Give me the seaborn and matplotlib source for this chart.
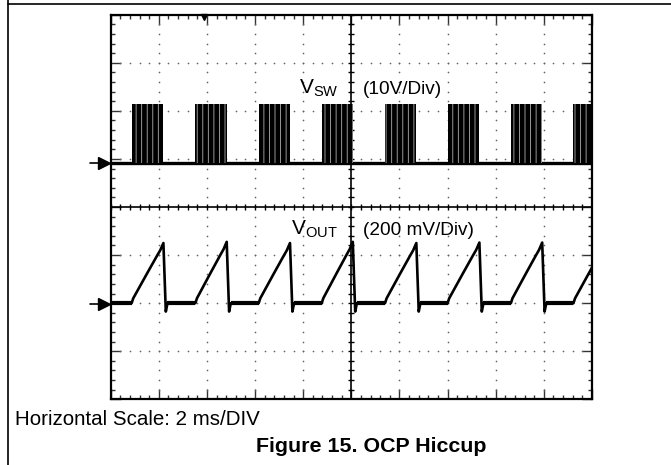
import numpy as np
import pandas as pd
import matplotlib
matplotlib.use('Agg')
import matplotlib.pyplot as plt
import seaborn as sns
from matplotlib.lines import Line2D
from matplotlib.ticker import MultipleLocator
import matplotlib.transforms as mtransforms

# ── Datos (tiempo en ms, 2 ms/div) ──────────────────────────────
burst_start_ms = [0.87, 3.52, 6.15, 8.77, 11.40, 14.00, 16.63, 19.23]
burst_end_ms = [2.19, 4.82, 7.45, 10.06, 12.70, 15.32, 17.93, 20.55]
vsw_high_v = [12.3, 12.2, 12.3, 12.2, 12.3, 12.2, 12.3, 12.2]
vout_peak_mv = [250, 255, 250, 255, 250, 252, 252, 252]
# forma de la rampa de VOUT (fracción del burst -> fracción del pico)
ramp_frac_t = [0.0, 0.05, 0.26, 0.47, 0.63, 0.79, 0.90, 1.0]
ramp_frac_v = [0.0, 0.08, 0.28, 0.48, 0.63, 0.78, 0.88, 1.0]
undershoot_mv = -35

# posiciones de los canales en divisiones (8 div verticales)
VSW_POS = 0.92     # 10 V/div
VOUT_POS = -2.0    # 200 mV/div

# ── Construir la traza de VOUT ──────────────────────────────────
t_out = [0.0]
v_out = [0.0]
for s, e, p in zip(burst_start_ms, burst_end_ms, vout_peak_mv):
    for ft, fv in zip(ramp_frac_t, ramp_frac_v):
        t_out.append(s + ft * (e - s))
        v_out.append(fv * p)
    t_out += [e + 0.10, e + 0.17]
    v_out += [undershoot_mv, 0.0]
df_out = pd.DataFrame({'t': t_out, 'y': VOUT_POS + np.array(v_out) / 200.0})
df_sw = pd.DataFrame({'t': [0.0, 20.0], 'y': [VSW_POS, VSW_POS]})

sns.set_theme(style='white')
plt.rcParams['font.family'] = ['Liberation Sans', 'DejaVu Sans']
plt.rcParams['mathtext.fontset'] = 'custom'
plt.rcParams['mathtext.rm'] = 'Liberation Sans'
plt.rcParams['hatch.linewidth'] = 0.6

fig = plt.figure(figsize=(6.71, 4.65), dpi=100)
ax = fig.add_axes([110.7 / 671, 1 - 399.3 / 465, 481.3 / 671, 384.6 / 465])
ax.set_xlim(0, 20)
ax.set_ylim(-4, 4)

# ── Retícula del osciloscopio ───────────────────────────────────
minor_y = np.arange(-4, 4.001, 0.2)
minor_x = np.arange(0, 20.001, 0.4)
for xv in [2, 4, 6, 8, 12, 14, 16, 18]:
    ax.scatter(np.full_like(minor_y, xv), minor_y, s=1.5, color='#666666', lw=0, zorder=1)
for yv in [-3, -2, -1, 1, 2, 3]:
    ax.scatter(minor_x, np.full_like(minor_x, yv), s=1.5, color='#666666', lw=0, zorder=1)
ax.axvline(10, color='black', lw=1.2, zorder=2)
ax.axhline(0, color='black', lw=1.2, zorder=2)
ax.plot(np.full_like(minor_y, 10), minor_y, ls='none', marker='_', ms=5, mew=1.0, color='black', zorder=2)
ax.plot(minor_x, np.zeros_like(minor_x), ls='none', marker='|', ms=5, mew=1.0, color='black', zorder=2)

ax.set_xticks(np.arange(0, 20.1, 2))
ax.set_yticks(np.arange(-4, 4.1, 1))
ax.xaxis.set_minor_locator(MultipleLocator(0.4))
ax.yaxis.set_minor_locator(MultipleLocator(0.2))
ax.tick_params(which='both', direction='in', top=True, right=True, bottom=True, left=True,
               labelbottom=False, labelleft=False, color='#333333')
ax.tick_params(which='major', length=7, width=1.0)
ax.tick_params(which='minor', length=3, width=1.0)
for sp in ax.spines.values():
    sp.set_color('black')
    sp.set_linewidth(1.6)
    sp.set_zorder(5)

# ── Trazas ──────────────────────────────────────────────────────
sns.lineplot(data=df_sw, x='t', y='y', color='black', lw=2.4, ax=ax, zorder=3)
for s, e, h in zip(burst_start_ms, burst_end_ms, vsw_high_v):
    ax.fill_between([s, e], VSW_POS, VSW_POS + h / 10.0, facecolor='black',
                    edgecolor='#b0b0b0', hatch='|||', lw=0, zorder=3)

sns.lineplot(data=df_out, x='t', y='y', color='black', lw=1.9, ax=ax, sort=False,
             estimator=None, zorder=3)
flat_start = [0.0] + [e + 0.17 for e in burst_end_ms[:-1]]
ax.hlines([VOUT_POS] * len(burst_start_ms), flat_start, burst_start_ms, color='black', lw=3, zorder=3)

ax.set_xlabel('')
ax.set_ylabel('')

# flechas de referencia de canal y marca de disparo
blend = mtransforms.blended_transform_factory(ax.transAxes, ax.transData)
for ypos in [VSW_POS, VOUT_POS - 0.02]:
    ax.plot([-0.043, -0.02], [ypos, ypos], color='black', lw=1.2, transform=blend, clip_on=False)
    ax.plot([-0.0135], [ypos], marker='>', ms=9, color='black', transform=blend, clip_on=False)
ax.plot([3.88], [3.95], marker='v', ms=5, color='black', clip_on=False, zorder=6)

# etiquetas de canal
ax.text(9.49, 2.36, r'V$_\mathregular{SW}$', ha='right', va='baseline', fontsize=15, color='black')
ax.text(10.48, 2.35, '(10V/Div)', ha='left', va='baseline', fontsize=13.7, color='black')
ax.text(9.45, -0.58, r'V$_\mathregular{OUT}$', ha='right', va='baseline', fontsize=15, color='black')
ax.text(10.48, -0.58, '(200 mV/Div)', ha='left', va='baseline', fontsize=13.7, color='black')

# marco de la página y textos
fig.add_artist(Line2D([7.7 / 671, 1], [1 - 4.5 / 465] * 2, color='black', lw=1.2,
                      transform=fig.transFigure))
fig.add_artist(Line2D([7.7 / 671] * 2, [0, 1], color='black', lw=1.2, transform=fig.transFigure))
fig.text(15 / 671, 1 - 419 / 465, 'Horizontal Scale: 2 ms/DIV', ha='left', va='center',
         fontsize=14.8, color='black')
fig.text(371 / 671, 1 - 446 / 465, 'Figure 15. OCP Hiccup', ha='center', va='center',
         fontsize=15.4, fontweight='bold', color='black')

fig.savefig('out.png', dpi=100)
